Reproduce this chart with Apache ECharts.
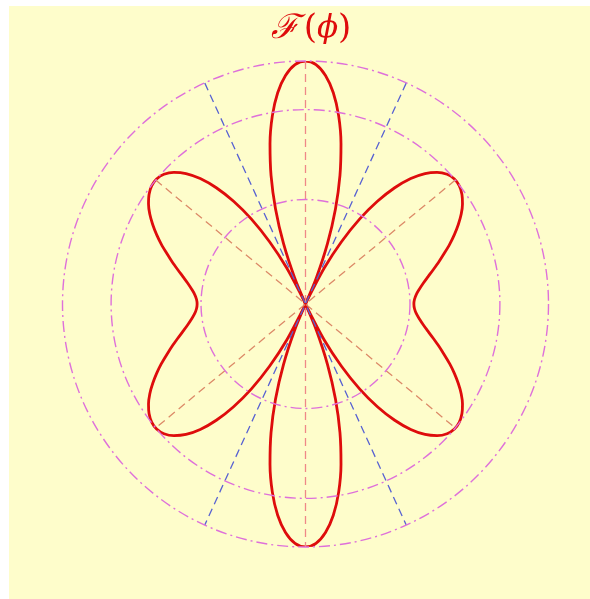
<!DOCTYPE html>
<html>
<head>
<meta charset="utf-8">
<script src="https://cdn.jsdelivr.net/npm/echarts@6/dist/echarts.min.js"></script>
<style>
  html, body { margin: 0; padding: 0; background: #ffffff; }
  #panel { position: absolute; left: 9px; top: 6px; width: 581px; height: 593px; background: #fefdcb; }
  #chart { width: 581px; height: 593px; }
</style>
</head>
<body>
<div id="panel"><div id="chart"></div></div>
<script>
// Pattern F(phi): direction in degrees (0 = east, counter-clockwise) and normalised amplitude
const phiDeg = [
  // 0 .. 90
  0, 2.5, 5, 7.5, 10, 12.5, 15, 17.5, 20, 22.5, 25, 27.5, 30, 32.5, 35, 37.5, 40, 42.5, 45, 47.5,
  50, 52.5, 55, 57.5, 60, 62.5, 65, 65.5, 67.5, 70, 72.5, 75, 77.5, 80, 82.5, 85, 87.5, 90,
  // 90 .. 180
  92.5, 95, 97.5, 100, 102.5, 105, 107.5, 110, 112.5, 114.5, 115, 117.5, 120, 122.5, 125, 127.5, 130,
  132.5, 135, 137.5, 140, 142.5, 145, 147.5, 150, 152.5, 155, 157.5, 160, 162.5, 165, 167.5, 170,
  172.5, 175, 177.5, 180,
  // 180 .. 270
  182.5, 185, 187.5, 190, 192.5, 195, 197.5, 200, 202.5, 205, 207.5, 210, 212.5, 215, 217.5, 220,
  222.5, 225, 227.5, 230, 232.5, 235, 237.5, 240, 242.5, 245, 245.5, 247.5, 250, 252.5, 255, 257.5,
  260, 262.5, 265, 267.5, 270,
  // 270 .. 360
  272.5, 275, 277.5, 280, 282.5, 285, 287.5, 290, 292.5, 294.5, 295, 297.5, 300, 302.5, 305, 307.5, 310,
  312.5, 315, 317.5, 320, 322.5, 325, 327.5, 330, 332.5, 335, 337.5, 340, 342.5, 345, 347.5, 350,
  352.5, 355, 357.5, 360
];
const F = [
  0.446, 0.449, 0.458, 0.473, 0.492, 0.516, 0.544, 0.575, 0.607, 0.642, 0.676, 0.709, 0.740, 0.766, 0.786, 0.798, 0.800, 0.790, 0.766, 0.728,
  0.674, 0.603, 0.516, 0.414, 0.296, 0.167, 0.028, 0, 0.118, 0.265, 0.410, 0.548, 0.675, 0.786, 0.877, 0.944, 0.986, 1.000,

  0.986, 0.944, 0.877, 0.786, 0.675, 0.548, 0.410, 0.265, 0.118, 0, 0.028, 0.167, 0.296, 0.414, 0.516, 0.603, 0.674,
  0.728, 0.766, 0.790, 0.800, 0.798, 0.786, 0.766, 0.740, 0.709, 0.676, 0.642, 0.607, 0.575, 0.544, 0.516, 0.492,
  0.473, 0.458, 0.449, 0.446,

  0.449, 0.458, 0.473, 0.492, 0.516, 0.544, 0.575, 0.607, 0.642, 0.676, 0.709, 0.740, 0.766, 0.786, 0.798, 0.800,
  0.790, 0.766, 0.728, 0.674, 0.603, 0.516, 0.414, 0.296, 0.167, 0.028, 0, 0.118, 0.265, 0.410, 0.548, 0.675,
  0.786, 0.877, 0.944, 0.986, 1.000,

  0.986, 0.944, 0.877, 0.786, 0.675, 0.548, 0.410, 0.265, 0.118, 0, 0.028, 0.167, 0.296, 0.414, 0.516, 0.603, 0.674,
  0.728, 0.766, 0.790, 0.800, 0.798, 0.786, 0.766, 0.740, 0.709, 0.676, 0.642, 0.607, 0.575, 0.544, 0.516, 0.492,
  0.473, 0.458, 0.449, 0.446
];

// Reference rings (amplitude levels) and guide directions (degrees)
const ringLevels = [0.43, 0.80, 1.0];
const sideLobeDirs = [39.6, 140.4];
const sideLobeLevel = 0.80;
const mainLobeDir = 90;
const nullDirs = [65.5, 114.5];

const RED = '#de0c0c';
const RING = '#de70da';
const ORANGE = '#dc8a68';
const VPINK = '#ef8888';
const BLUE = '#5862d2';

// split the pattern into lobes at its nulls; the last lobe wraps onto the first
function lobes() {
  const segs = [];
  let cur = [];
  for (let i = 0; i < phiDeg.length; i++) {
    cur.push([F[i], phiDeg[i]]);
    if (F[i] === 0) { segs.push(cur); cur = [[0, phiDeg[i]]]; }
  }
  const first = segs.shift();
  segs.push(cur.concat(first.slice(1)));
  return segs;
}

const series = [];
lobes().forEach(function (seg) {
  series.push({
    type: 'line', coordinateSystem: 'polar', data: seg, smooth: 0.3, clip: false,
    symbol: 'none', silent: true, z: 3,
    lineStyle: { color: RED, width: 2.8 }
  });
});

series.push({
  type: 'line', coordinateSystem: 'polar', symbol: 'none', silent: true, z: 4, clip: false,
  data: [[1, mainLobeDir], [0, mainLobeDir], [1, mainLobeDir + 180]],
  lineStyle: { color: VPINK, width: 1.3, type: [8, 5] }
});
sideLobeDirs.forEach(function (a) {
  series.push({
    type: 'line', coordinateSystem: 'polar', symbol: 'none', silent: true, z: 4, clip: false,
    data: [[sideLobeLevel, a], [0, a], [sideLobeLevel, a + 180]],
    lineStyle: { color: ORANGE, width: 1.3, type: [8, 5] }
  });
});
nullDirs.forEach(function (a) {
  series.push({
    type: 'line', coordinateSystem: 'polar', symbol: 'none', silent: true, z: 4, clip: false,
    data: [[1, a], [0, a], [1, a + 180]],
    lineStyle: { color: BLUE, width: 1.3, type: [8, 5] }
  });
});

const chart = echarts.init(document.getElementById('chart'), null, { renderer: 'canvas' });
chart.setOption({
  backgroundColor: 'transparent',
  animation: false,
  polar: { center: [296.5, 298], radius: 243 },
  angleAxis: {
    type: 'value', min: 0, max: 360, startAngle: 0, clockwise: false,
    axisLine: { show: false }, axisTick: { show: false }, axisLabel: { show: false },
    splitLine: { show: false }
  },
  radiusAxis: {
    type: 'value', min: 0, max: 1,
    axisLine: { show: false }, axisTick: { show: false }, axisLabel: { show: false },
    splitLine: { show: false }
  },
  series: series
});

// dash-dot rings at the reference amplitude levels, placed through the polar scale
const origin = chart.convertToPixel({ polarIndex: 0 }, [0, 0]);
const rings = ringLevels.map(function (lv) {
  const p = chart.convertToPixel({ polarIndex: 0 }, [lv, 0]);
  return {
    type: 'circle', silent: true, z: 100,
    shape: { cx: origin[0], cy: origin[1], r: Math.hypot(p[0] - origin[0], p[1] - origin[1]) },
    style: { fill: null, stroke: RING, lineWidth: 1.4, lineDash: [11, 4, 2, 4] }
  };
});

chart.setOption({
  graphic: rings.concat([{
    type: 'text', x: 302, y: 23, z: 100,
    style: {
      text: '{f|ℱ}{p|(}{g|ϕ}{p|)}',
      align: 'center', verticalAlign: 'middle',
      fill: RED,
      rich: {
        f: { fontFamily: 'DejaVu Serif', fontStyle: 'italic', fontSize: 34, fill: RED, padding: [0, 5, 0, 0] },
        p: { fontFamily: 'DejaVu Serif', fontSize: 34, fill: RED },
        g: { fontFamily: 'DejaVu Serif', fontStyle: 'italic', fontSize: 31, fill: RED }
      }
    }
  }])
});
</script>
</body>
</html>
